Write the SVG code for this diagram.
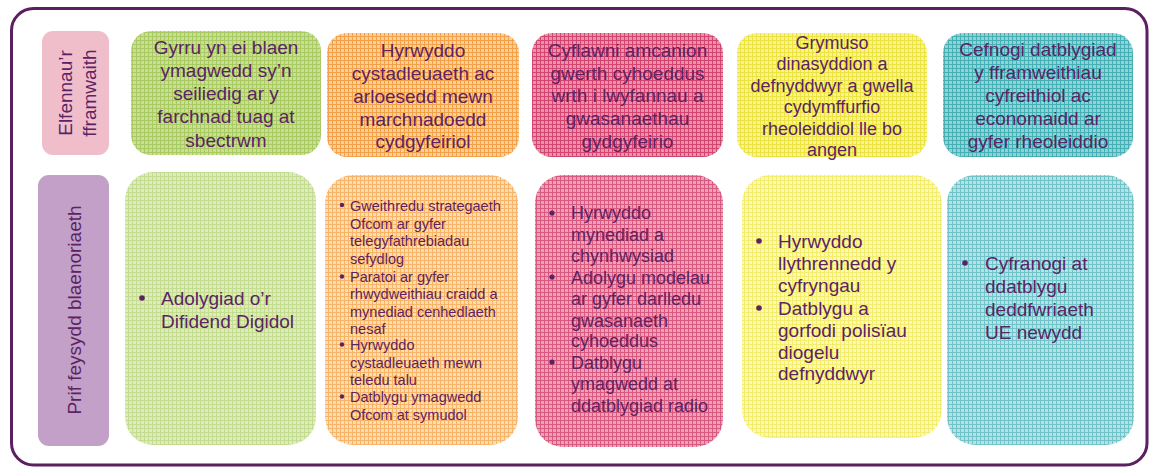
<svg xmlns="http://www.w3.org/2000/svg" width="1150" height="468" viewBox="0 0 1150 468">
<defs>
<style>
text{font-family:"Liberation Sans",Arial,sans-serif;fill:#5b2364}
.h{font-size:19px;text-anchor:middle}
.hs{font-size:18px;text-anchor:middle}
.b{font-size:19px}
.bm{font-size:18px}
.bs{font-size:14.5px}
.dot{fill:#5b2364}
</style>
<pattern id="pGt" width="4" height="4" patternUnits="userSpaceOnUse"><rect width="4" height="4" fill="#c9df95"/><rect width="4" height="1" fill="#a9ca62"/><rect width="1" height="4" fill="#a9ca62"/></pattern>
<pattern id="pGb" width="4" height="4" patternUnits="userSpaceOnUse"><rect width="4" height="4" fill="#deecbd"/><rect width="4" height="1" fill="#c3dc8f"/><rect width="1" height="4" fill="#c3dc8f"/></pattern>
<pattern id="pOt" width="4" height="4" patternUnits="userSpaceOnUse"><rect width="4" height="4" fill="#fad09a"/><rect width="4" height="1" fill="#f4a048"/><rect width="1" height="4" fill="#f4a048"/></pattern>
<pattern id="pOb" width="4" height="4" patternUnits="userSpaceOnUse"><rect width="4" height="4" fill="#fcdcb2"/><rect width="4" height="1" fill="#f7b468"/><rect width="1" height="4" fill="#f7b468"/></pattern>
<pattern id="pRt" width="4" height="4" patternUnits="userSpaceOnUse"><rect width="4" height="4" fill="#e595ab"/><rect width="4" height="1" fill="#d34470"/><rect width="1" height="4" fill="#d34470"/></pattern>
<pattern id="pRb" width="4" height="4" patternUnits="userSpaceOnUse"><rect width="4" height="4" fill="#e9a3b8"/><rect width="4" height="1" fill="#d9587f"/><rect width="1" height="4" fill="#d9587f"/></pattern>
<pattern id="pYt" width="4" height="4" patternUnits="userSpaceOnUse"><rect width="4" height="4" fill="#f7f394"/><rect width="4" height="1" fill="#ece342"/><rect width="1" height="4" fill="#ece342"/></pattern>
<pattern id="pYb" width="4" height="4" patternUnits="userSpaceOnUse"><rect width="4" height="4" fill="#fbf8bc"/><rect width="4" height="1" fill="#f3ec6c"/><rect width="1" height="4" fill="#f3ec6c"/></pattern>
<pattern id="pTt" width="4" height="4" patternUnits="userSpaceOnUse"><rect width="4" height="4" fill="#93d1d4"/><rect width="4" height="1" fill="#45afb6"/><rect width="1" height="4" fill="#45afb6"/></pattern>
<pattern id="pTb" width="4" height="4" patternUnits="userSpaceOnUse"><rect width="4" height="4" fill="#b8e1e3"/><rect width="4" height="1" fill="#70c3c8"/><rect width="1" height="4" fill="#70c3c8"/></pattern>
</defs>
<rect width="1150" height="468" fill="#ffffff"/>
<rect id="frame" x="11.5" y="8.5" width="1135.5" height="456.5" rx="22" fill="#ffffff" stroke="#5c1f5f" stroke-width="3"/>

<g id="label-elfennau">
<rect x="42" y="31" width="67" height="124" rx="11" fill="#f0bdca"/>
<text class="h" transform="rotate(-90 75.5 93)"><tspan x="75.5" y="89.5">Elfennau’r</tspan><tspan x="75.5" y="113">fframwaith</tspan></text>
</g>
<g id="label-prif">
<rect x="38" y="175" width="71" height="271" rx="11" fill="#c3a0c7"/>
<text class="h" transform="rotate(-90 73.5 310)" x="73.5" y="317">Prif feysydd blaenoriaeth</text>
</g>

<g id="top-green">
<rect x="131" y="31" width="190" height="124" rx="20" fill="url(#pGt)"/>
<text class="h"><tspan x="226" y="54">Gyrru yn ei blaen</tspan><tspan x="226" y="77">ymagwedd sy’n</tspan><tspan x="226" y="100">seiliedig ar y</tspan><tspan x="226" y="123">farchnad tuag at</tspan><tspan x="226" y="146.5">sbectrwm</tspan></text>
</g>
<g id="top-orange">
<rect x="327" y="33" width="192" height="124" rx="20" fill="url(#pOt)"/>
<text class="h"><tspan x="423" y="57">Hyrwyddo</tspan><tspan x="423" y="80">cystadleuaeth ac</tspan><tspan x="423" y="102.5">arloesedd mewn</tspan><tspan x="423" y="125.5">marchnadoedd</tspan><tspan x="423" y="148">cydgyfeiriol</tspan></text>
</g>
<g id="top-red">
<rect x="532" y="33" width="191" height="124" rx="20" fill="url(#pRt)"/>
<text class="h"><tspan x="627.5" y="56.5">Cyflawni amcanion</tspan><tspan x="627.5" y="79.5">gwerth cyhoeddus</tspan><tspan x="627.5" y="102">wrth i lwyfannau a</tspan><tspan x="627.5" y="125">gwasanaethau</tspan><tspan x="627.5" y="147.5">gydgyfeirio</tspan></text>
</g>
<g id="top-yellow">
<rect x="737" y="33" width="190" height="124" rx="20" fill="url(#pYt)"/>
<text class="hs"><tspan x="832" y="48.5">Grymuso</tspan><tspan x="832" y="70">dinasyddion a</tspan><tspan x="832" y="91.5">defnyddwyr a gwella</tspan><tspan x="832" y="113">cydymffurfio</tspan><tspan x="832" y="134.5">rheoleiddiol lle bo</tspan><tspan x="832" y="155.5">angen</tspan></text>
</g>
<g id="top-teal">
<rect x="943" y="33" width="190" height="124" rx="20" fill="url(#pTt)"/>
<text class="h"><tspan x="1038" y="55.5">Cefnogi datblygiad</tspan><tspan x="1038" y="79">y fframweithiau</tspan><tspan x="1038" y="102">cyfreithiol ac</tspan><tspan x="1038" y="125">economaidd ar</tspan><tspan x="1038" y="147.5">gyfer rheoleiddio</tspan></text>
</g>

<g id="bottom-green">
<rect x="125" y="172" width="191" height="273" rx="28" fill="url(#pGb)"/>
<circle class="dot" cx="142" cy="298" r="2.8"/>
<text class="b"><tspan x="161" y="305">Adolygiad o’r</tspan><tspan x="161" y="327.5">Difidend Digidol</tspan></text>
</g>
<g id="bottom-orange">
<rect x="325" y="175" width="193" height="270" rx="28" fill="url(#pOb)"/>
<circle class="dot" cx="342" cy="205" r="2.2"/>
<circle class="dot" cx="342" cy="276.5" r="2.2"/>
<circle class="dot" cx="342" cy="344.5" r="2.2"/>
<circle class="dot" cx="342" cy="396.5" r="2.2"/>
<text class="bs"><tspan x="350" y="211">Gweithredu strategaeth</tspan><tspan x="350" y="228.5">Ofcom ar gyfer</tspan><tspan x="350" y="246">telegyfathrebiadau</tspan><tspan x="350" y="263.5">sefydlog</tspan><tspan x="350" y="282">Paratoi ar gyfer</tspan><tspan x="350" y="299">rhwydweithiau craidd a</tspan><tspan x="350" y="316.5">mynediad cenhedlaeth</tspan><tspan x="350" y="333.5">nesaf</tspan><tspan x="350" y="350">Hyrwyddo</tspan><tspan x="350" y="367.5">cystadleuaeth mewn</tspan><tspan x="350" y="385">teledu talu</tspan><tspan x="350" y="402">Datblygu ymagwedd</tspan><tspan x="350" y="419.5">Ofcom at symudol</tspan></text>
</g>
<g id="bottom-red">
<rect x="535" y="175" width="188" height="272" rx="28" fill="url(#pRb)"/>
<circle class="dot" cx="552" cy="213" r="2.6"/>
<circle class="dot" cx="552" cy="277" r="2.6"/>
<circle class="dot" cx="552" cy="362" r="2.6"/>
<text class="bm"><tspan x="571" y="219">Hyrwyddo</tspan><tspan x="571" y="241">mynediad a</tspan><tspan x="571" y="262">chynhwysiad</tspan><tspan x="571" y="283.5">Adolygu modelau</tspan><tspan x="571" y="305">ar gyfer darlledu</tspan><tspan x="571" y="326.5">gwasanaeth</tspan><tspan x="571" y="347">cyhoeddus</tspan><tspan x="571" y="368.5">Datblygu</tspan><tspan x="571" y="390">ymagwedd at</tspan><tspan x="571" y="411.5">ddatblygiad radio</tspan></text>
</g>
<g id="bottom-yellow">
<rect x="742" y="175" width="200" height="263" rx="28" fill="url(#pYb)"/>
<circle class="dot" cx="759" cy="241" r="2.8"/>
<circle class="dot" cx="759" cy="308" r="2.8"/>
<text class="b"><tspan x="778" y="248">Hyrwyddo</tspan><tspan x="778" y="270">llythrennedd y</tspan><tspan x="778" y="292">cyfryngau</tspan><tspan x="778" y="315">Datblygu a</tspan><tspan x="778" y="337">gorfodi polisïau</tspan><tspan x="778" y="358.5">diogelu</tspan><tspan x="778" y="380">defnyddwyr</tspan></text>
</g>
<g id="bottom-teal">
<rect x="947" y="175" width="187" height="270" rx="28" fill="url(#pTb)"/>
<circle class="dot" cx="965" cy="263" r="2.8"/>
<text class="b"><tspan x="985" y="270">Cyfranogi at</tspan><tspan x="985" y="293">ddatblygu</tspan><tspan x="985" y="316">deddfwriaeth</tspan><tspan x="985" y="338.5">UE newydd</tspan></text>
</g>
<g id="connectors"/>
</svg>
